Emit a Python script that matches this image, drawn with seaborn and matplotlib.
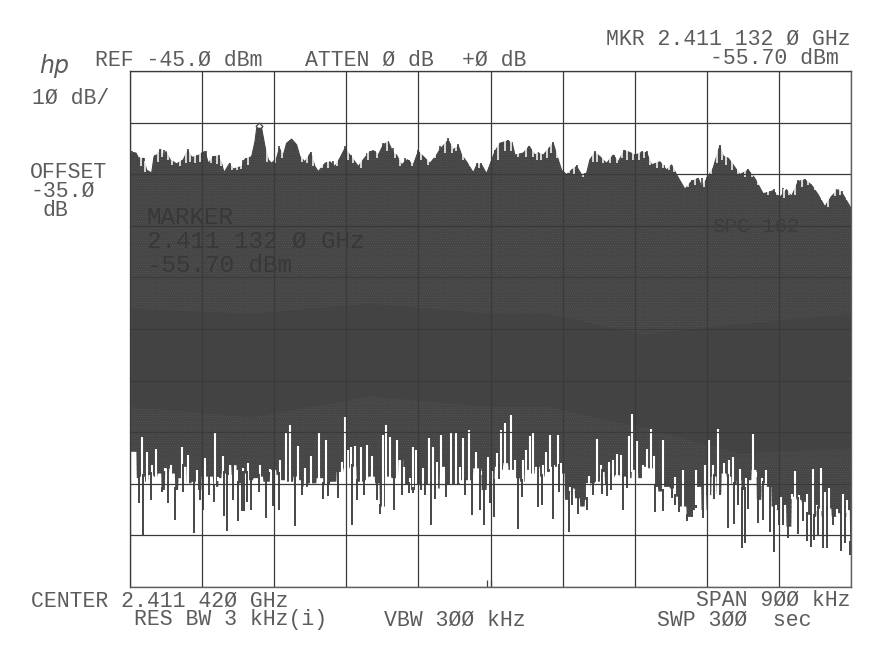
import numpy as np
import pandas as pd
import seaborn as sns
import matplotlib.pyplot as plt

# upper edge of the trace (kHz from left edge, dBm)
top_khz = [0, 3.3, 7.5, 11.6, 16.6, 20.8, 27, 30, 33.3, 38.3, 41.6, 44.9, 49.9, 58.2, 66.6, 72, 77, 83.2, 89.4, 93.6,
           97.8, 104, 110.2, 114.4, 117.3, 124, 129, 139.4, 143.5, 151.8, 156, 158.1, 164.3, 168.5, 172.6, 176.8,
           183, 186.4, 191.4, 195.5, 201.8, 208, 212.2, 218.4, 225.5, 230.9, 235, 243.4, 249.6, 255.8, 262, 268.3,
           274.6, 280.8, 285, 291.2, 299.5, 305.8, 309.9, 316.2, 322.4, 328.6, 332.8, 339, 346.1, 353.6, 359.8,
           368.2, 374.4, 382.7, 386.9, 397.3, 403.5, 409.8, 414, 420.2, 428.5, 433.5, 438.9, 445.1, 455.5, 461.8,
           472.2, 477.6, 480.5, 490.9, 498.4, 505.5, 509.6, 515.9, 528.3, 534.6, 538.7, 545, 551.2, 557.5, 563.7,
           570, 574.1, 580.3, 586.6, 594.9, 603.2, 609.5, 617, 624, 630.3, 638.6, 644.8, 651.1, 661.5, 669.8, 676,
           682.3, 692.7, 701, 709.3, 713.5, 719.7, 728, 736.3, 740.5, 746.7, 753, 761.3, 771.7, 780, 790.4, 802.9,
           811.2, 819.5, 825.8, 834.1, 842.4, 850.7, 859.1, 867.4, 875.7, 884, 890.3, 900]
top_dbm = [-61.9, -60.8, -60.9, -62.2, -61.9, -64.2, -64.8, -61.6, -61.3, -60.2, -61.6, -60.6, -62.2, -63, -62.2,
           -60.4, -61.7, -61.6, -60.9, -60.6, -62.9, -61.6, -61.5, -62.9, -64.7, -63, -64, -63.5, -62.1, -61.6,
           -58.7, -56.1, -56.1, -59.6, -62.2, -62.9, -61.9, -60, -61.3, -59, -58.2, -59.3, -61.6, -62.6, -60.9,
           -63.5, -64.5, -62.9, -62.6, -63.5, -61.9, -60, -61.3, -62.6, -63.5, -62.2, -60.6, -60.6, -61.3, -59.3,
           -58.7, -60.9, -61.3, -63.2, -62.2, -63.2, -60.6, -61.9, -62.9, -61.3, -60.2, -58.4, -60.3, -59.5, -61.3,
           -62.6, -64.7, -63, -63.2, -64.9, -60.6, -59, -58.5, -59.3, -61.3, -60.9, -59.6, -61.3, -60.9, -61.3, -59,
           -62.2, -64.2, -65.1, -64.2, -63.5, -65.1, -64.8, -62.2, -60.8, -61.6, -62.9, -61.3, -62.6, -60.4, -60.8,
           -61.3, -60.8, -60.8, -63.2, -62.6, -64.2, -63.2, -65.1, -67.9, -66.4, -65.8, -67.4, -66, -63.8, -59.5,
           -61.5, -61.9, -63.2, -65.1, -64.2, -65.8, -68.8, -68.2, -69.5, -68, -69.3, -66.4, -66.1, -67.1, -69,
           -71.3, -69.3, -68, -69, -71.6]

# small peaks standing on the upper edge
peak_khz = [2.1, 5.4, 8.7, 12.5, 17.5, 31.2, 37.4, 42.4, 47.8, 72, 84, 89.9, 94.4, 104, 111.1, 124.8, 140.6, 144.8,
            152.7, 186.4, 196.4, 205.9, 225.5, 245.4, 253.8, 262.9, 268.7, 275.4, 295.4, 303.7, 316.2, 322.4, 327.8,
            343.2, 348.6, 359.8, 366.1, 386.9, 397.3, 409.8, 432.7, 437.6, 455.5, 463.9, 472.2, 477.2, 498.4, 509.6,
            528.3, 558.3, 580.3, 604, 617, 638.6, 644.8, 666.5, 701, 713.5, 719.7, 736.3, 771.7, 804.2, 815.4, 834.1,
            842.4, 881.9, 888.2]
peak_dbm = [-60.6, -60.8, -61.3, -61.6, -61.9, -61.3, -60.2, -60.3, -61.3, -60.2, -61.3, -60.8, -60.6, -61.5, -61.3,
            -62.9, -62.2, -61.9, -61.5, -59.6, -59, -58.9, -60.7, -62.6, -62.4, -62.1, -59.6, -61.3, -60.9, -60.4, -59,
            -58.5, -60, -61.9, -62.2, -60.4, -61.6, -59.5, -58, -59.1, -62.9, -62.9, -60.3, -58.9, -58.4, -58.7, -59.5,
            -60.7, -58.7, -63.2, -60.6, -61.3, -60.3, -60.6, -60.6, -63.2, -66.1, -65.8, -65.6, -59.3, -64, -67.9,
            -67.7, -66.1, -66, -67.9, -68.2]

# small notches cut down from the upper edge
notch_khz = [14.1, 19.1, 35.4, 40.4, 47.4, 52, 62.4, 69.9, 74.9, 81.1, 87.4, 100.7, 108.2, 113.6, 126.9, 134, 138.1,
             147.7, 170.6, 181, 189.3, 214.2, 221.3, 228.8, 239.2, 247.5, 258.8, 272.5, 278.7, 287.9, 297.4, 307.8,
             320.3, 330.7, 337, 351.5, 362.8, 372.3, 380.6, 393.1, 401.5, 406.9, 416, 424.3, 436, 459.7, 468, 475.1,
             484.7, 494.2, 502.5, 507.5, 512.5, 520, 525, 532.5, 548.3, 554.5, 565.8, 577.4, 583.3, 590.7, 599, 607.4,
             613.6, 620.7, 627.3, 635.3, 641.5, 649, 657.3, 664.8, 673.1, 678.9, 696.8, 705.1, 716.4, 724.7, 733, 738.4,
             743.8, 750.9, 759.2, 767.5, 775.9, 784.2, 796.7, 807.1, 816.2, 822.9, 830, 838.3, 846.6, 854.9, 863.2,
             871.6, 879.9, 886.1, 894.4]
notch_dbm = [-63.5, -64.5, -62.6, -61.6, -62.2, -63.2, -63.5, -62.9, -62.6, -62.9, -62.6, -62.9, -63, -63.5, -64.2,
             -64.2, -64, -63.2, -62.6, -62.9, -61.9, -62.6, -62.9, -63.5, -63.8, -63.8, -63.5, -62.2, -62.9, -63.8,
             -62.2, -61.9, -60.6, -61.9, -63.5, -63.5, -62.2, -63.2, -61.9, -60.9, -60.9, -60.6, -62.2, -63.5, -63.8,
             -62.2, -60.6, -60.6, -61.6, -61.6, -61.6, -62.2, -62.2, -61.9, -60.9, -61.9, -64.8, -65.1, -65.5, -62.6,
             -62.6, -62.9, -62.9, -62.9, -61.9, -62.2, -62.2, -62.2, -61.9, -63.2, -63.8, -63.8, -64.2, -64.5, -67.4,
             -67.1, -67.4, -65.1, -62.9, -62.2, -63.2, -64.2, -65.1, -65.5, -65.5, -67.1, -69, -69, -69.7, -69, -69,
             -67.4, -67.1, -68, -70, -71.3, -69.3, -69, -70]

# bottom of the solid band, ragged as on the plot
base_khz = [0, 8.3, 12.5, 18.7, 22.9, 29.1, 34.1, 39.5, 43.7, 49.9, 56.1, 60.3, 66.5, 70.7, 76.9, 83.2, 89.4, 96.5,
            104, 110.2, 114.4, 120.6, 126.9, 133.1, 139.3, 147.7, 153.9, 160.1, 166.4, 174.7, 183, 187.2, 195.5, 203.8,
            210.1, 216.3, 222.5, 233, 241.3, 249.6, 257.9, 266.2, 274.5, 282.9, 291.2, 297.4, 305.7, 312, 320.3, 326.5,
            334.9, 341.1, 349.4, 357.7, 364, 370.2, 378.5, 386.9, 395.2, 403.5, 411.8, 420.1, 428.5, 438.9, 445.1,
            453.4, 455.5, 461.8, 466, 472.2, 480.5, 486.7, 493, 499.2, 505.5, 511.7, 518, 524.2, 530.4, 536.7, 542.9,
            549.1, 555.4, 561.6, 567.9, 574.1, 580.3, 586.6, 592.8, 599.1, 605.3, 611.5, 619.9, 626.1, 634.4, 640.7,
            646.9, 653.1, 659.4, 665.6, 674, 680.2, 686.4, 694.7, 701, 707.2, 713.5, 719.7, 726, 732.2, 738.4, 744.7,
            750.9, 757.1, 763.4, 769.6, 775.9, 782.1, 788.3, 794.6, 800.8, 807.1, 813.3, 819.5, 825.8, 832, 838.3,
            844.5, 850.7, 857, 863.2, 869.5, 875.7, 881.9, 888.2, 894.4, 899]
base_dbm = [-118.8, -123.9, -123.6, -124.6, -123.3, -123.6, -123, -126.2, -122, -123, -126.2, -123.9, -121.7, -124.9,
            -124.6, -126.2, -123.6, -123.6, -125.6, -123.9, -123, -123.3, -121.4, -124.9, -123, -124.3, -123.9, -123.6,
            -124.6, -122.3, -123.3, -124.3, -124.6, -123.6, -124.3, -125.6, -124.9, -123.9, -125.2, -124.6, -122.7,
            -122, -121.7, -124.6, -124.3, -123.6, -124.9, -129.4, -123.6, -123.9, -120.4, -125.2, -126.2, -125.2,
            -125.2, -125.2, -125.9, -121.7, -125.2, -125.2, -124.3, -124.3, -122, -126.2, -125.2, -124.6, -121.7,
            -122.3, -121, -122.3, -123.9, -124.6, -122.3, -123, -121.7, -123.6, -122.7, -121.7, -121.7, -123, -128.1,
            -125.9, -127.8, -129.4, -128.1, -124.9, -124.6, -122.7, -125.2, -123.6, -123.3, -123.6, -123.9, -122.3,
            -123.9, -121.7, -122, -125.6, -126.5, -125.6, -125.9, -127.5, -129.4, -131.4, -130.1, -125.6, -130.1,
            -127.2, -123.6, -126.9, -123, -123.6, -125.2, -124.3, -126.2, -124.3, -122.3, -128.1, -124.9, -125.6,
            -129.4, -130.1, -129.1, -133.3, -127.5, -128.1, -128.5, -131, -131.4, -129.8, -131.4, -129.8, -131.4,
            -130.7, -131.4, -130.1, -136.5]

# darker middle of the band
core_khz = [0, 150, 300, 450, 520, 640, 760, 900]
core_hi = [-91, -92, -90, -92, -92, -96, -94, -92]
core_lo = [-110, -112, -108, -110, -110, -114, -119, -118]

# downward dark spikes
low_khz = [11.2, 16.6, 25.8, 39.5, 47, 56.1, 66.5, 79.9, 87.3, 91.5, 99, 104.8, 117.3, 121, 128.1, 135.2, 139.8, 142.7,
           145.6, 151.4, 161.4, 169.3, 178.9, 185.5, 205.5, 214.6, 241.3, 247.5, 259.6, 277.5, 282.9, 292, 307.8, 312,
           329.9, 339, 347.8, 353.6, 363.6, 367.7, 375.2, 380.2, 394.3, 417.6, 426.8, 436.4, 441.4, 449.3, 454.3, 461,
           484.7, 488.8, 509.6, 513.8, 527.5, 535.4, 547.9, 551.2, 559.5, 570.8, 578.3, 589.5, 595.7, 599.9, 615.7,
           619.9, 655.2, 664.8, 676, 680.2, 685.2, 694.7, 701, 706, 715.5, 728.9, 736.3, 745.9, 754.2, 759.2, 763.4,
           767.5, 770.9, 784.2, 790.4, 798.7, 803.3, 809.6, 815.4, 821.6, 833.3, 839.5, 844.5, 849.5, 853.7, 859.1,
           864.5, 870.3, 877.8, 886.9, 892.8, 899]
low_dbm = [-128.8, -135.2, -128.1, -126.5, -128.7, -132, -126.5, -134.6, -128.1, -130.1, -127.2, -128.5, -131.2, -134.1,
           -128.1, -132.3, -130.2, -130.2, -128.5, -130.1, -126.5, -131.7, -129.3, -130, -133.2, -127.2, -128, -127.4,
           -127.8, -132.9, -128.1, -127.2, -128.1, -130.9, -130.1, -127.2, -126.7, -126.7, -126.2, -127.2, -133, -128,
           -127.5, -127.2, -131, -130, -133, -128.8, -131.4, -124, -133.8, -127.6, -129.4, -129.1, -131.9, -126.5,
           -134.3, -129.1, -130.9, -130, -127.2, -126.9, -127.4, -126.2, -130, -125.9, -130.4, -130.3, -127.8, -129.1,
           -130.4, -132.2, -131.5, -129.1, -131.7, -128, -127.2, -133.6, -132.7, -129.1, -137.5, -136.5, -129.8,
           -132.5, -132, -134.3, -138.2, -133, -133, -135.6, -134.8, -132.3, -136, -137.3, -135.9, -134.9, -137.5,
           -137.5, -133, -138, -136.4, -138.8]

# white gaps reaching up into the band
gap_khz = [2.1, 6.2, 14.5, 20.8, 27.9, 32, 44.1, 50.7, 64.9, 68.6, 72.4, 83.2, 93.6, 106, 110.2, 115.6, 124.8, 133.1,
           140.6, 147.7, 162.2, 174.7, 187.6, 194.3, 200.1, 210.1, 218.8, 226.3, 236.3, 244.6, 264.1, 268.3, 272.5,
           275.8, 280.8, 287.9, 295.3, 302.4, 316.1, 319.1, 324.5, 332.8, 342.3, 349.4, 353.6, 356.5, 366.1, 372.7,
           378.5, 382.7, 387.7, 400.2, 406.8, 411.8, 416, 423.5, 431.8, 437.6, 446.8, 451.4, 457.6, 462.6, 468, 475.1,
           480.5, 490.1, 493.8, 499.2, 503.4, 510.9, 515.9, 519.2, 524.2, 529.2, 533.7, 537.5, 549.1, 554.1, 570,
           573.3, 583.3, 587.4, 598.2, 603.2, 608.2, 612.4, 623.2, 626.1, 632.3, 639.8, 644.8, 649.8, 654, 665.6,
           680.2, 690.6, 706.4, 718, 722.2, 727.2, 734.3, 741.7, 748, 752.1, 761.3, 768.8, 777.1, 780.9, 788.3, 793.7,
           806.2, 812, 825.8, 830, 835.3, 845.3, 852, 857, 862, 867.4, 872.8, 882, 889.4, 894.4]
gap_dbm = [-118.8, -119.1, -115.9, -118.8, -121.4, -118.3, -122, -121.4, -117.8, -121.7, -119.4, -122.3, -120, -114.9,
           -123.6, -119.7, -121.4, -122.3, -122, -120.9, -121.4, -122.2, -120.4, -115.2, -113.6, -117.7, -122, -119.7,
           -115.2, -116.5, -120.7, -112, -118.5, -117.8, -117.7, -117.8, -117.5, -119.7, -115.5, -113.6, -115.9, -116.5,
           -121.7, -123.9, -117.8, -118.5, -122, -116.2, -117.8, -120.7, -115.5, -114.9, -114.9, -121.7, -116.2, -114.6,
           -118.8, -123.3, -119.9, -122.6, -119.1, -114.6, -113.3, -111.7, -120.4, -120.4, -118.5, -115.7, -115.2,
           -123.3, -121.4, -118.8, -115.5, -121.4, -115.5, -121, -125.6, -126.2, -124.9, -123.5, -116.4, -121.4, -120.7,
           -120.3, -119.2, -119.4, -115.7, -111.5, -116.8, -121.4, -118.3, -114.3, -119.7, -116.5, -123.6, -122.3,
           -122.3, -121.4, -116.6, -121.4, -114.4, -121, -120.3, -119.9, -122.2, -123.9, -115.4, -123.6, -123.9, -122.3,
           -129.1, -127.5, -126.9, -122.6, -127.2, -126.9, -122.2, -129.1, -122, -126.5, -125.9, -129.8, -127, -128.1]

marker_khz = 161
marker_dbm = -55.7
center_khz = [445.5, 450.5]

sns.set_style('white')
plt.rcParams['font.family'] = ['Liberation Mono', 'DejaVu Sans Mono']
plt.rcParams['hatch.linewidth'] = 0.35

ink = '#454545'
dark = '#434343'
text_c = '#5c5c5c'


def band_floor(khz):
    # the band bottom holds its level until the next reading
    pos = np.searchsorted(base_khz, khz, side='right') - 1
    return np.array(base_dbm)[pos]


fig = plt.figure(figsize=(8.86, 6.5), dpi=100)
ax = fig.add_axes([130 / 886, 1 - 587 / 650, 721 / 886, 516 / 650])

df = pd.DataFrame({'khz': top_khz, 'dbm': top_dbm})
sns.lineplot(data=df, x='khz', y='dbm', color=ink, lw=0.8, ax=ax, zorder=2)

# solid band between the two edges
grid_x = np.arange(0, 900.5, 0.5)
upper = np.interp(grid_x, top_khz, top_dbm)
ax.fill_between(grid_x, band_floor(grid_x), upper, facecolor=ink, edgecolor='#585858', hatch='.......', lw=0, zorder=2)
ax.fill_between(core_khz, core_lo, core_hi, color=dark, lw=0, zorder=2.1)

ax.vlines(peak_khz, np.interp(peak_khz, top_khz, top_dbm) - 1, peak_dbm, color=ink, lw=1.2, zorder=2.2)
ax.vlines(notch_khz, np.maximum(np.interp(notch_khz, top_khz, top_dbm) + 0.8, notch_dbm), notch_dbm,
          color='white', lw=1.1, zorder=2.25)
ax.vlines(gap_khz, band_floor(gap_khz) - 0.5, gap_dbm, color='white', lw=1.5, zorder=2.3)
ax.vlines(low_khz, band_floor(low_khz) + 0.5, low_dbm, color=ink, lw=1.4, zorder=2.4)
ax.plot([marker_khz], [marker_dbm], marker='D', ms=3.5, mfc='none', mec=ink, mew=0.9, zorder=5)
ax.vlines(center_khz, -145, -143.6, color='#404040', lw=0.9, zorder=5)

ax.set_xlim(0, 900)
ax.set_ylim(-145, -45)
ax.set_xticks(np.arange(0, 901, 90))
ax.set_yticks(np.arange(-145, -44, 10))
ax.tick_params(length=0, labelbottom=False, labelleft=False)
ax.set_xlabel('')
ax.set_ylabel('')
ax.grid(True, color='#3a3a3a', lw=0.9)
ax.set_axisbelow(False)
for s in ax.spines.values():
    s.set_color('#606060')
    s.set_linewidth(1)

# ghost of the marker readout inside the trace
for txt, xp, yp in [('MARKER', 147, 217), ('2.411 132 Ø GHz', 147, 241), ('-55.70 dBm', 147, 265)]:
    fig.text(xp / 886, 1 - yp / 650, txt, color='#383838', fontsize=17.5, va='center', zorder=5)
fig.text(712 / 886, 1 - 226 / 650, 'SPC-162', color='#3c3c3c', fontsize=15, va='center', zorder=5)

labels = [
    ('REF -45.Ø dBm', 95, 60, 'left'),
    ('ATTEN Ø dB', 305, 60, 'left'),
    ('+Ø dB', 462, 60, 'left'),
    ('MKR 2.411 132 Ø GHz', 851, 39, 'right'),
    ('-55.70 dBm', 839, 59, 'right'),
    ('1Ø dB/', 32, 98, 'left'),
    ('OFFSET', 30, 172, 'left'),
    ('-35.Ø', 30, 191, 'left'),
    ('dB', 43, 210, 'left'),
    ('CENTER 2.411 42Ø GHz', 31, 601, 'left'),
    ('RES BW 3 kHz(i)', 134, 620, 'left'),
    ('VBW 3ØØ kHz', 384, 620, 'left'),
    ('SPAN 9ØØ kHz', 851, 600, 'right'),
    ('SWP 3ØØ  sec', 657, 620, 'left'),
]
for txt, xp, yp, ha in labels:
    fig.text(xp / 886, 1 - yp / 650, txt, color=text_c, fontsize=15.5, ha=ha, va='center')
fig.text(54 / 886, 1 - 66 / 650, 'hp', color=text_c, fontsize=17, style='italic',
         family='DejaVu Sans', ha='center', va='center')

fig.savefig('out.png', dpi=100)
